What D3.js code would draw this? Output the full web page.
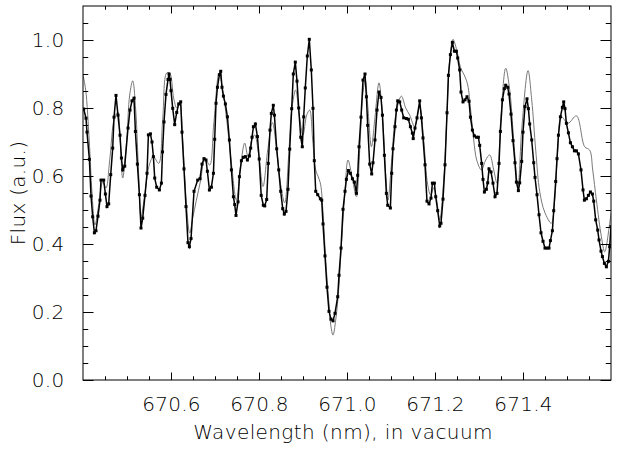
<!DOCTYPE html>
<html>
<head>
<meta charset="utf-8">
<script src="https://cdn.jsdelivr.net/npm/d3@7"></script>
<style>
  body { margin: 0; background: #fff; }
  text { font-family: "DejaVu Sans", sans-serif; font-weight: 200; fill: #000; }
</style>
</head>
<body>
<div id="view"></div>
<script>
var width = 617, height = 453;
var left = 83, right = 611, top_ = 6, bottom = 380;

// observed spectrum (black, with squares)
var obsWave = [670.4016,670.4068,670.4091,670.4145,670.4182,670.4220,670.4259,670.4295,670.4341,670.4386,
670.4409,670.4470,670.4509,670.4545,670.4584,670.4630,670.4675,670.4705,670.4750,670.4795,
670.4841,670.4873,670.4902,670.4948,670.5023,670.5068,670.5114,670.5159,670.5191,670.5236,
670.5282,670.5318,670.5357,670.5409,670.5455,670.5486,670.5532,670.5568,670.5600,670.5630,
670.5675,670.5736,670.5782,670.5807,670.5841,670.5886,670.5932,670.5955,670.5977,670.6000,
670.6039,670.6084,670.6130,670.6175,670.6220,670.6250,670.6295,670.6341,670.6386,670.6418,
670.6455,670.6523,670.6607,670.6659,670.6705,670.6750,670.6795,670.6827,670.6873,670.6918,
670.6964,670.6993,670.7023,670.7055,670.7100,670.7130,670.7159,670.7191,670.7236,670.7282,
670.7327,670.7373,670.7418,670.7448,670.7477,670.7523,670.7555,670.7600,670.7645,670.7691,
670.7736,670.7782,670.7811,670.7841,670.7873,670.7918,670.7964,670.8005,670.8050,670.8098,
670.8130,670.8175,670.8211,670.8250,670.8280,670.8325,670.8350,670.8402,670.8448,670.8493,
670.8539,670.8575,670.8614,670.8659,670.8698,670.8743,670.8780,670.8825,670.8864,670.8902,
670.8948,670.8984,670.9016,670.9052,670.9098,670.9143,670.9189,670.9227,670.9257,670.9289,
670.9334,670.9395,670.9425,670.9455,670.9500,670.9545,670.9591,670.9636,670.9682,670.9727,
670.9789,670.9818,670.9864,670.9909,670.9955,670.9986,671.0032,671.0077,671.0123,671.0168,
671.0214,671.0243,671.0273,671.0318,671.0364,671.0409,671.0441,671.0470,671.0516,671.0561,
671.0591,671.0636,671.0682,671.0727,671.0773,671.0805,671.0850,671.0895,671.0925,671.0986,
671.1016,671.1045,671.1091,671.1123,671.1152,671.1198,671.1243,671.1289,671.1350,671.1395,
671.1441,671.1486,671.1505,671.1545,671.1591,671.1652,671.1691,671.1727,671.1773,671.1818,
671.1864,671.1909,671.1941,671.1986,671.2016,671.2061,671.2107,671.2136,671.2182,671.2227,
671.2273,671.2305,671.2350,671.2395,671.2441,671.2486,671.2516,671.2561,671.2591,671.2636,
671.2682,671.2727,671.2773,671.2805,671.2850,671.2895,671.2941,671.2986,671.3016,671.3061,
671.3091,671.3123,671.3168,671.3198,671.3227,671.3273,671.3318,671.3364,671.3409,671.3455,
671.3486,671.3532,671.3577,671.3607,671.3652,671.3682,671.3727,671.3773,671.3818,671.3850,
671.3895,671.3925,671.3970,671.4000,671.4045,671.4091,671.4123,671.4152,671.4198,671.4243,
671.4273,671.4318,671.4364,671.4409,671.4455,671.4500,671.4545,671.4591,671.4623,671.4668,
671.4698,671.4743,671.4773,671.4805,671.4850,671.4895,671.4925,671.4955,671.4986,671.5032,
671.5077,671.5123,671.5168,671.5214,671.5259,671.5318,671.5364,671.5395,671.5441,671.5486,
671.5532,671.5577,671.5607,671.5652,671.5698,671.5727,671.5773,671.5805,671.5850,671.5895,
671.5941,671.5970,671.6000];
var obsFlux = [0.797,0.770,0.729,0.649,0.541,0.480,0.433,0.439,0.482,0.529,
0.588,0.588,0.547,0.510,0.518,0.604,0.682,0.773,0.837,0.779,
0.720,0.653,0.618,0.629,0.741,0.794,0.821,0.829,0.731,0.635,
0.545,0.447,0.476,0.543,0.608,0.721,0.724,0.700,0.657,0.594,
0.567,0.559,0.579,0.671,0.759,0.840,0.884,0.900,0.884,0.851,
0.799,0.751,0.787,0.812,0.818,0.729,0.621,0.510,0.404,0.392,
0.416,0.555,0.588,0.592,0.635,0.651,0.647,0.614,0.559,0.567,
0.608,0.708,0.814,0.861,0.898,0.908,0.861,0.835,0.812,0.774,
0.706,0.618,0.539,0.516,0.484,0.524,0.598,0.645,0.655,0.657,
0.647,0.659,0.682,0.714,0.745,0.753,0.716,0.650,0.543,0.514,
0.512,0.531,0.637,0.735,0.784,0.808,0.779,0.680,0.618,0.555,
0.504,0.488,0.496,0.561,0.679,0.798,0.900,0.935,0.879,0.800,
0.714,0.686,0.774,0.859,0.953,1.002,0.912,0.799,0.645,0.555,
0.545,0.533,0.529,0.459,0.365,0.273,0.202,0.179,0.174,0.196,
0.245,0.308,0.388,0.502,0.555,0.590,0.616,0.608,0.592,0.582,
0.549,0.602,0.686,0.773,0.882,0.900,0.833,0.749,0.635,0.606,
0.639,0.706,0.794,0.847,0.831,0.779,0.661,0.549,0.514,0.506,
0.608,0.680,0.745,0.794,0.821,0.818,0.794,0.771,0.769,0.767,
0.745,0.726,0.710,0.741,0.771,0.821,0.771,0.712,0.633,0.526,
0.518,0.535,0.579,0.579,0.539,0.498,0.453,0.461,0.532,0.633,
0.786,0.896,0.957,0.993,0.967,0.967,0.947,0.912,0.847,0.818,
0.824,0.833,0.820,0.773,0.735,0.718,0.714,0.714,0.690,0.637,
0.590,0.553,0.561,0.580,0.621,0.612,0.579,0.539,0.549,0.637,
0.731,0.824,0.857,0.867,0.861,0.841,0.782,0.704,0.639,0.582,
0.557,0.580,0.643,0.729,0.804,0.827,0.798,0.753,0.706,0.639,
0.596,0.545,0.486,0.433,0.408,0.388,0.388,0.388,0.410,0.439,
0.498,0.584,0.651,0.720,0.774,0.802,0.818,0.798,0.755,0.727,
0.698,0.686,0.674,0.674,0.665,0.618,0.559,0.529,0.533,0.543,
0.553,0.547,0.526,0.471,0.441,0.412,0.379,0.363,0.343,0.333,
0.349,0.392,0.451];

// model spectrum (thin grey)
var modelWave = [670.4000,670.4061,670.4141,670.4205,670.4273,670.4357,670.4448,670.4523,670.4607,670.4714,
670.4789,670.4845,670.4902,670.4993,670.5061,670.5130,670.5198,670.5266,670.5318,670.5402,
670.5505,670.5600,670.5720,670.5811,670.5902,670.5970,670.6061,670.6130,670.6198,670.6266,
670.6345,670.6425,670.6493,670.6577,670.6675,670.6766,670.6880,670.6970,670.7091,670.7175,
670.7266,670.7373,670.7486,670.7584,670.7675,670.7750,670.7834,670.7902,670.7993,670.8091,
670.8198,670.8305,670.8402,670.8493,670.8584,670.8675,670.8743,670.8834,670.8914,670.9000,
670.9084,670.9152,670.9220,670.9289,670.9357,670.9402,670.9459,670.9516,670.9584,670.9630,
670.9682,670.9743,670.9811,670.9880,670.9948,671.0023,671.0107,671.0214,671.0289,671.0357,
671.0414,671.0470,671.0555,671.0630,671.0727,671.0811,671.0880,671.0932,671.1016,671.1107,
671.1236,671.1334,671.1425,671.1539,671.1652,671.1743,671.1834,671.1902,671.1970,671.2039,
671.2107,671.2198,671.2266,671.2334,671.2409,671.2493,671.2584,671.2675,671.2743,671.2811,
671.2880,671.2948,671.3055,671.3152,671.3243,671.3334,671.3409,671.3493,671.3607,671.3698,
671.3789,671.3886,671.3970,671.4114,671.4198,671.4289,671.4380,671.4493,671.4645,671.4720,
671.4789,671.4873,671.5023,671.5214,671.5402,671.5516,671.5584,671.5668,671.5782,671.5857,
671.5970,671.6000];
var modelFlux = [0.897,0.853,0.706,0.550,0.456,0.515,0.582,0.565,0.647,0.771,
0.788,0.706,0.594,0.706,0.838,0.880,0.794,0.603,0.480,0.544,
0.632,0.657,0.637,0.765,0.903,0.903,0.829,0.800,0.815,0.706,
0.529,0.432,0.476,0.529,0.588,0.653,0.632,0.750,0.902,0.853,
0.765,0.638,0.529,0.632,0.697,0.657,0.706,0.721,0.662,0.569,
0.676,0.757,0.676,0.574,0.521,0.662,0.794,0.853,0.779,0.721,
0.779,0.794,0.706,0.618,0.594,0.574,0.485,0.353,0.235,0.162,
0.132,0.176,0.265,0.412,0.544,0.647,0.603,0.539,0.676,0.838,
0.882,0.809,0.686,0.765,0.874,0.765,0.603,0.529,0.647,0.779,
0.835,0.800,0.779,0.745,0.804,0.706,0.574,0.544,0.565,0.529,
0.471,0.588,0.765,0.941,1.002,0.971,0.918,0.894,0.868,0.794,
0.706,0.647,0.618,0.647,0.662,0.618,0.579,0.765,0.917,0.853,
0.706,0.569,0.735,0.910,0.824,0.676,0.554,0.494,0.461,0.529,
0.676,0.774,0.755,0.777,0.686,0.676,0.618,0.529,0.421,0.377,
0.461,0.490];

var xMajor = [670.6, 670.8, 671.0, 671.2, 671.4];
var xMinor = [670.45,670.5,670.55,670.65,670.7,670.75,670.85,670.9,670.95,671.05,671.1,671.15,671.25,671.3,671.35,671.45,671.5,671.55];
var yMajor = [0.0, 0.2, 0.4, 0.6, 0.8, 1.0];
var yMinor = [0.05,0.1,0.15,0.25,0.3,0.35,0.45,0.5,0.55,0.65,0.7,0.75,0.85,0.9,0.95,1.05];

var obs = obsWave.map(function(w, i) { return { w: w, f: obsFlux[i] }; });
var model = modelWave.map(function(w, i) { return { w: w, f: modelFlux[i] }; });

var x = d3.scaleLinear().domain([670.4, 671.6]).range([left, right]);
var y = d3.scaleLinear().domain([0, 1.1]).range([bottom, top_]);

var svg = d3.select("#view").append("svg")
	.attr("width", width)
	.attr("height", height);

svg.append("defs").append("clipPath").attr("id", "clip")
	.append("rect")
	.attr("x", left).attr("y", top_)
	.attr("width", right - left).attr("height", bottom - top_);

var plot = svg.append("g").attr("clip-path", "url(#clip)");

// grey model, smooth
plot.append("path")
	.datum(model)
	.attr("fill", "none")
	.attr("stroke", "#777")
	.attr("stroke-width", 1)
	.attr("d", d3.line().curve(d3.curveCatmullRom)
		.x(function(d) { return x(d.w); })
		.y(function(d) { return y(d.f); }));

// black observed line + squares
plot.append("path")
	.datum(obs)
	.attr("fill", "none")
	.attr("stroke", "#000")
	.attr("stroke-width", 1.5)
	.attr("d", d3.line()
		.x(function(d) { return x(d.w); })
		.y(function(d) { return y(d.f); }));

plot.selectAll(".pt")
	.data(obs).enter()
	.append("rect")
	.attr("class", "pt")
	.attr("x", function(d) { return x(d.w) - 1.5; })
	.attr("y", function(d) { return y(d.f) - 1.5; })
	.attr("width", 3)
	.attr("height", 3)
	.attr("fill", "#000");

// frame
svg.append("rect")
	.attr("x", left).attr("y", top_)
	.attr("width", right - left).attr("height", bottom - top_)
	.attr("fill", "none")
	.attr("stroke", "#000")
	.attr("stroke-width", 1);

// ticks, all pointing inward like IDL
function addAxis(axis, tr) {
	var g = svg.append("g").attr("transform", tr).call(axis);
	g.select(".domain").remove();
	g.selectAll("line").attr("stroke", "#000");
	return g;
}
var xl = 7.5, yl = 10.5;
addAxis(d3.axisBottom(x).tickValues(xMajor).tickSize(-xl).tickPadding(xl + 9)
	.tickFormat(d3.format(".1f")), "translate(0," + bottom + ")");
addAxis(d3.axisBottom(x).tickValues(xMinor).tickSize(-xl / 2).tickFormat(""), "translate(0," + bottom + ")");
addAxis(d3.axisTop(x).tickValues(xMajor).tickSize(-xl).tickFormat(""), "translate(0," + top_ + ")");
addAxis(d3.axisTop(x).tickValues(xMinor).tickSize(-xl / 2).tickFormat(""), "translate(0," + top_ + ")");
addAxis(d3.axisLeft(y).tickValues(yMajor).tickSize(-yl).tickPadding(yl + 8)
	.tickFormat(d3.format(".1f")), "translate(" + left + ",0)");
addAxis(d3.axisLeft(y).tickValues(yMinor).tickSize(-yl / 2).tickFormat(""), "translate(" + left + ",0)");
addAxis(d3.axisRight(y).tickValues(yMajor).tickSize(-yl).tickFormat(""), "translate(" + right + ",0)");
addAxis(d3.axisRight(y).tickValues(yMinor).tickSize(-yl / 2).tickFormat(""), "translate(" + right + ",0)");

svg.selectAll(".tick text")
	.attr("font-family", null)
	.attr("font-size", null)
	.style("font-size", "20px")
	.style("letter-spacing", "0.3px")
	.attr("fill", "#000");

// axis titles
svg.append("text")
	.attr("x", (left + right) / 2 - 4)
	.attr("y", 439)
	.attr("text-anchor", "middle")
	.style("font-size", "20px")
	.style("letter-spacing", "0.4px")
	.text("Wavelength (nm), in vacuum");

svg.append("text")
	.attr("transform", "translate(25," + ((top_ + bottom) / 2) + ") rotate(-90)")
	.attr("text-anchor", "middle")
	.style("font-size", "20px")
	.style("letter-spacing", "0.3px")
	.text("Flux (a.u.)");
</script>
</body>
</html>
